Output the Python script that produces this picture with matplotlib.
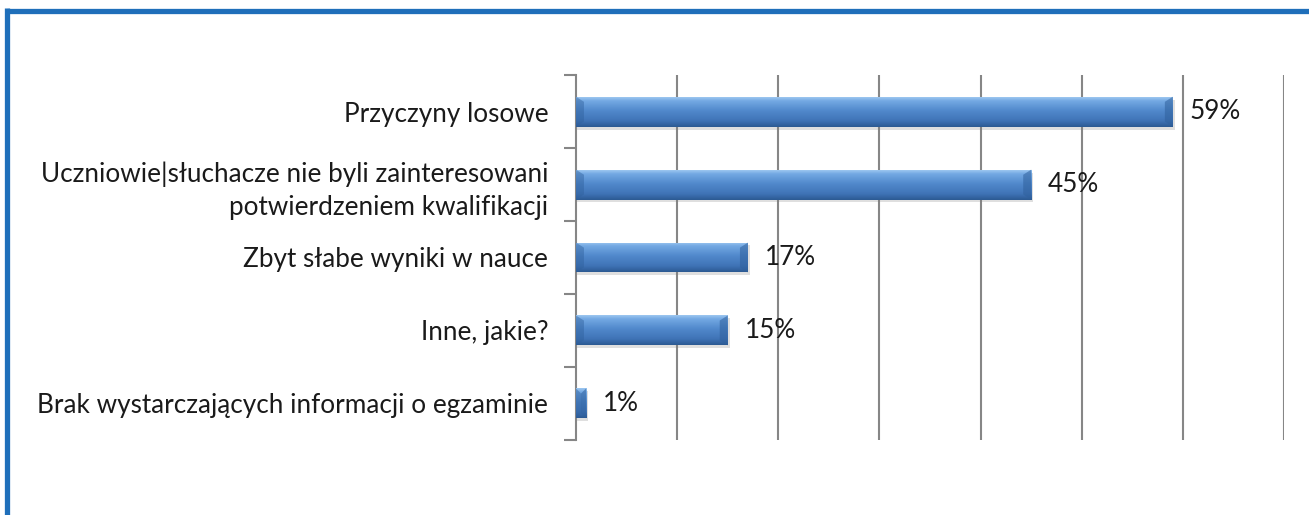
import numpy as np
import matplotlib.pyplot as plt
from matplotlib.patches import Rectangle, Polygon
from matplotlib.colors import LinearSegmentedColormap
from matplotlib.lines import Line2D

# dane
kategorie = ['Przyczyny losowe',
             'Uczniowie|słuchacze nie byli zainteresowani\npotwierdzeniem kwalifikacji',
             'Zbyt słabe wyniki w nauce',
             'Inne, jakie?',
             'Brak wystarczających informacji o egzaminie']
wartosci = [59, 45, 17, 15, 1]
x_max = 70

plt.rcParams['font.family'] = ['Lato', 'DejaVu Sans']

fig = plt.figure(figsize=(13.09, 5.15), dpi=100)
ax = fig.add_axes([0.440, 0.146, 0.541, 0.708])

grad = LinearSegmentedColormap.from_list('bar', [
    (0.0, '#9cc6f0'), (0.12, '#74a9e3'), (0.45, '#5189cc'),
    (0.8, '#3f73b6'), (1.0, '#2c5a93')])
g = np.linspace(0, 1, 64).reshape(-1, 1)

h = 0.41
px = x_max / 708.0  # szerokosc piksela w jednostkach danych
bv = 8 * px
bvy = 0.07
for i, v in enumerate(wartosci):
    top, bot = i - h / 2, i + h / 2
    # cien
    ax.add_patch(Rectangle((0, top + 0.04), v + 2 * px, h, color='#808080', alpha=0.25, lw=0, zorder=2))
    r = Rectangle((0, top), v, h, facecolor='none', edgecolor='none', zorder=3)
    ax.add_patch(r)
    im = ax.imshow(g, cmap=grad, aspect='auto', origin='upper',
                   extent=[0, v, bot, top], zorder=3, interpolation='bilinear')
    im.set_clip_path(r)
    b = min(bv, v / 2)
    # skosy na koncach
    ax.add_patch(Polygon([(v - b, top + bvy), (v, top), (v, bot), (v - b, bot - bvy)],
                         closed=True, facecolor='#2f609c', alpha=0.55, lw=0, zorder=4))
    ax.add_patch(Polygon([(0, top), (b, top + bvy), (b, bot - bvy), (0, bot)],
                         closed=True, facecolor='#2f609c', alpha=0.45, lw=0, zorder=4))
    ax.text(v + 17 * px, i, f'{v}%', va='center', ha='left', fontsize=18.8, color='#1a1a1a', zorder=5)

ax.set_xlim(0, x_max)
ax.set_ylim(len(wartosci) - 0.5, -0.5)
ax.set_xticks(np.arange(10, x_max + 1, 10))
ax.tick_params(axis='x', length=0, labelbottom=False)
ax.grid(axis='x', color='#868686', linewidth=1.5, zorder=0)
ax.set_axisbelow(True)

ax.set_yticks(range(len(kategorie)))
ax.set_yticklabels(kategorie, fontsize=18.8, color='#1a1a1a', linespacing=1.4)
ax.set_yticks(np.arange(-0.5, len(kategorie)), minor=True)
ax.tick_params(axis='y', which='major', length=0, pad=20)
ax.tick_params(axis='y', which='minor', length=9, width=1.5, color='#868686')

for s in ['top', 'right', 'bottom']:
    ax.spines[s].set_visible(False)
ax.spines['left'].set_color('#868686')
ax.spines['left'].set_linewidth(1.5)

# ramka (tylko gora i lewa strona widoczna)
W, H = 1309, 515
fig.add_artist(Line2D([6.5 / W, 1.0], [1 - 10.5 / H, 1 - 10.5 / H], color='#1f6fba', lw=3.8,
                      transform=fig.transFigure, solid_capstyle='butt'))
fig.add_artist(Line2D([6.5 / W, 6.5 / W], [0.0, 1 - 8 / H], color='#1f6fba', lw=3.8,
                      transform=fig.transFigure, solid_capstyle='butt'))

fig.savefig('out.png', dpi=100)
